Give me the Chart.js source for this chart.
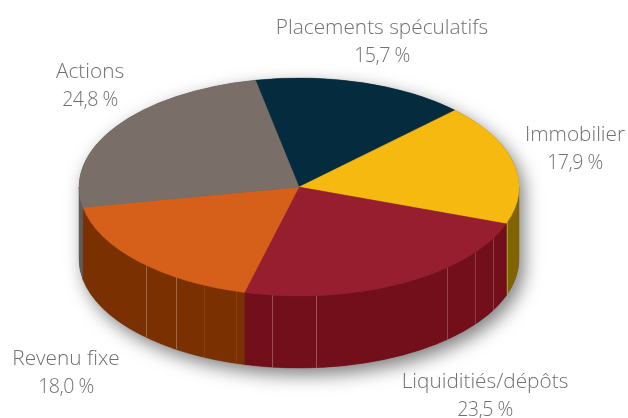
<!DOCTYPE html>
<html><head><meta charset="utf-8">
<style>html,body{margin:0;padding:0;background:#fff}canvas{display:block}</style>
<script src="https://cdn.jsdelivr.net/npm/chart.js@4"></script>
</head><body><canvas id="c" width="628" height="418"></canvas>
<script>
const categories = ["Placements spéculatifs","Immobilier","Liquiditiés/dépôts","Revenu fixe","Actions"];
const values = [15.7,17.9,23.5,18.0,24.8];
const topColors = ["#042c3e","#f5b90f","#971e2e","#d6601a","#7a6e68"];
const wallColors = ["#021a26","#806400","#720f1a","#7a3000","#625a56"];
const labelAnchors = [[382,28],[575,135],[485,382],[66,359],[90,72]];
const seamDegrees = [134.2,124.1,115.5,106.6,97,85.6,47.6,36.8,28.1,18.9];
const seamAlpha = [0.28,0.28,0.08,0.08,0.28,0.28,0.22,0.18,0.2,0.3];

const CX=299, CY=187, RX=220, RY=109, DEPTH=72;
const pct = v => v.toFixed(1).replace('.',',')+' %';

const pie3d = {
  id:'pie3d',
  beforeDatasetDraw(chart){
    const ctx=chart.ctx, arcs=chart.getDatasetMeta(0).data, a0=arcs[0], R=a0.outerRadius;
    const sx=RX/R, sy=RY/R, d=DEPTH/sy;
    ctx.save();
    ctx.shadowColor='rgba(0,0,0,0.5)'; ctx.shadowBlur=18; ctx.shadowOffsetX=5; ctx.shadowOffsetY=7;
    ctx.fillStyle='#555';
    ctx.beginPath();
    ctx.ellipse(CX,CY,RX,RY,0,Math.PI,0);
    ctx.ellipse(CX,CY+DEPTH,RX,RY,0,0,Math.PI);
    ctx.closePath(); ctx.fill();
    ctx.restore();

    ctx.save();
    ctx.translate(CX,CY); ctx.scale(sx,sy); ctx.translate(-a0.x,-a0.y);
    arcs.forEach((arc,i)=>{
      for(const k of [-1,0,1]){
        const s=Math.max(arc.startAngle+k*2*Math.PI,0), e=Math.min(arc.endAngle+k*2*Math.PI,Math.PI);
        if(e<=s) continue;
        ctx.beginPath();
        ctx.arc(arc.x,arc.y,R,s,e);
        ctx.arc(arc.x,arc.y+d,R,e,s,true);
        ctx.closePath();
        ctx.fillStyle=wallColors[i]; ctx.fill();
        ctx.strokeStyle=wallColors[i]; ctx.lineWidth=0.6; ctx.stroke();
      }
    });
    ctx.restore();
    ctx.save(); ctx.lineWidth=1;
    seamDegrees.forEach((deg,i)=>{
      const t=deg*Math.PI/180, x=CX+RX*Math.cos(t), y=CY+RY*Math.sin(t);
      ctx.strokeStyle=`rgba(255,255,255,${seamAlpha[i]})`;
      ctx.beginPath(); ctx.moveTo(Math.round(x)+.5,y); ctx.lineTo(Math.round(x)+.5,y+DEPTH); ctx.stroke();
    });
    ctx.restore();

    ctx.save();
    ctx.translate(CX,CY); ctx.scale(sx,sy); ctx.translate(-a0.x,-a0.y);
  },
  afterDatasetDraw(chart){ chart.ctx.restore(); },
  afterDraw(chart){
    const ctx=chart.ctx;
    ctx.save();
    ctx.fillStyle='#707072'; ctx.textAlign='center'; ctx.textBaseline='alphabetic';
    categories.forEach((n,i)=>{
      const [x,y]=labelAnchors[i];
      ctx.letterSpacing='0px';
      ctx.font='300 20.8px "Open Sans", Lato, sans-serif';
      ctx.fillText(n,x,y+6);
      ctx.letterSpacing='-0.5px';
      ctx.font='300 19.6px "Open Sans", Lato, sans-serif';
      ctx.fillText(pct(values[i]),x,y+34);
    });
    ctx.restore();
  }
};

new Chart(document.getElementById('c'),{
  type:'pie',
  data:{labels:categories,datasets:[{data:values,backgroundColor:topColors,borderColor:topColors,borderWidth:0.5}]},
  options:{
    responsive:false,animation:false,rotation:-11.4,
    layout:{padding:0},
    plugins:{legend:{display:false},tooltip:{enabled:false},title:{display:false}}
  },
  plugins:[pie3d]
});
</script></body></html>
